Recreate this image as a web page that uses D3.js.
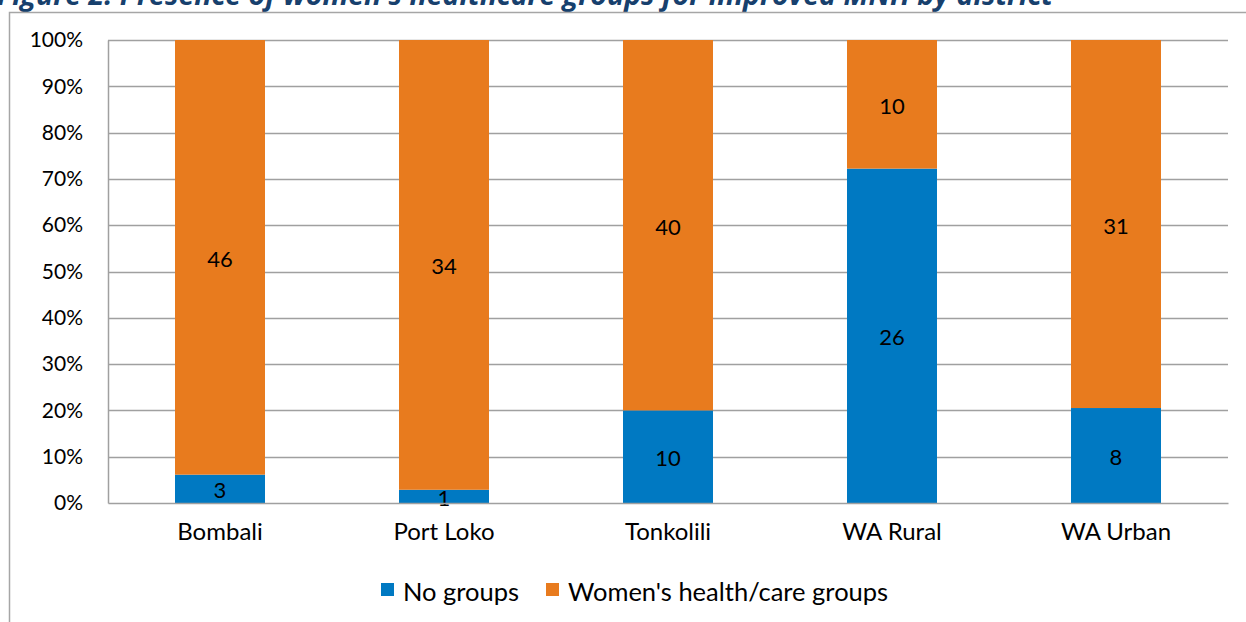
<!DOCTYPE html>
<html>
<head>
<meta charset="utf-8">
<script src="https://cdn.jsdelivr.net/npm/d3@7"></script>
<style>
  html, body { margin: 0; padding: 0; background: #fff; }
  svg { display: block; }
  text { font-family: Lato, "Open Sans", sans-serif; fill: #000; }
</style>
</head>
<body>
<svg id="chart" width="1246" height="622"></svg>
<script>
// District counts for each response category
const districts = ["Bombali", "Port Loko", "Tonkolili", "WA Rural", "WA Urban"];
const noGroups = [3, 1, 10, 26, 8];
const womensGroups = [46, 34, 40, 10, 31];
const seriesNames = ["No groups", "Women's health/care groups"];
const seriesColors = ["#0079C2", "#E87B1E"];
const yTicks = [0, 0.1, 0.2, 0.3, 0.4, 0.5, 0.6, 0.7, 0.8, 0.9, 1];

const svg = d3.select("#chart");
const W = 1246, H = 622;
const plot = { left: 108, right: 1228, top: 40, bottom: 503 };

// Title (sits partly above the visible page area)
svg.append("text")
  .attr("x", -3).attr("y", 5)
  .style("font-family", "'Open Sans', sans-serif")
  .style("font-weight", "bold").style("font-style", "italic")
  .style("font-size", "28.5px").style("fill", "#17406D")
  .text("Figure 2: Presence of women's healthcare groups for improved MNH by district");

// Chart frame
svg.append("rect")
  .attr("x", 9.5).attr("y", 12.5)
  .attr("width", W + 20).attr("height", H + 20)
  .attr("fill", "none").attr("stroke", "#A6A6A6").attr("stroke-width", 1.5);

const x = d3.scaleBand().domain(districts).range([plot.left, plot.right]).paddingInner(0).paddingOuter(0);
const barW = 90;
const y = d3.scaleLinear().domain([0, 1]).range([plot.bottom, plot.top]);

// Gridlines
svg.append("g")
  .selectAll("line").data(yTicks.filter(t => t > 0)).join("line")
  .attr("x1", plot.left).attr("x2", plot.right)
  .attr("y1", d => Math.round(y(d)) + 0.5).attr("y2", d => Math.round(y(d)) + 0.5)
  .attr("stroke", "#A0A0A0").attr("stroke-width", 1.5);

// Stacked percentages
const rows = districts.map((d, i) => {
  const total = noGroups[i] + womensGroups[i];
  return { district: d, values: [noGroups[i], womensGroups[i]], total };
});

rows.forEach(r => {
  let cum = 0;
  r.values.forEach((v, k) => {
    const y0 = cum / r.total, y1 = (cum + v) / r.total;
    cum += v;
    const cx = x(r.district) + x.bandwidth() / 2;
    svg.append("rect")
      .attr("x", cx - barW / 2).attr("width", barW)
      .attr("y", y(y1)).attr("height", y(y0) - y(y1))
      .attr("fill", seriesColors[k]);
    svg.append("text")
      .attr("x", cx).attr("y", (y(y0) + y(y1)) / 2 + 1)
      .attr("text-anchor", "middle").attr("dominant-baseline", "central")
      .style("font-size", "22px")
      .text(v);
  });
});

// Y axis
const yAxis = d3.axisLeft(y).tickValues(yTicks).tickFormat(d3.format(".0%")).tickSize(0).tickPadding(25);
const gy = svg.append("g").attr("transform", `translate(${plot.left},0)`).call(yAxis);
gy.select(".domain").attr("stroke", "#A0A0A0").attr("stroke-width", 1.5);
gy.selectAll("text").style("font-size", "21px").style("font-family", "Lato, 'Open Sans', sans-serif");

// X axis
const xAxis = d3.axisBottom(x).tickSize(0).tickPadding(20);
const gx = svg.append("g").attr("transform", `translate(0,${plot.bottom})`).call(xAxis);
gx.select(".domain").attr("stroke", "#A0A0A0").attr("stroke-width", 1.5);
gx.selectAll("text").style("font-size", "24px").style("font-family", "Lato, 'Open Sans', sans-serif");

// Legend
const legend = svg.append("g");
const legendItems = [{ x: 381, name: seriesNames[0], color: seriesColors[0] },
                     { x: 546, name: seriesNames[1], color: seriesColors[1] }];
legendItems.forEach(it => {
  legend.append("rect").attr("x", it.x).attr("y", 583).attr("width", 13).attr("height", 13).attr("fill", it.color);
  legend.append("text").attr("x", it.x + 22).attr("y", 591)
    .attr("dominant-baseline", "central").style("font-size", "25.5px").text(it.name);
});
</script>
</body>
</html>
